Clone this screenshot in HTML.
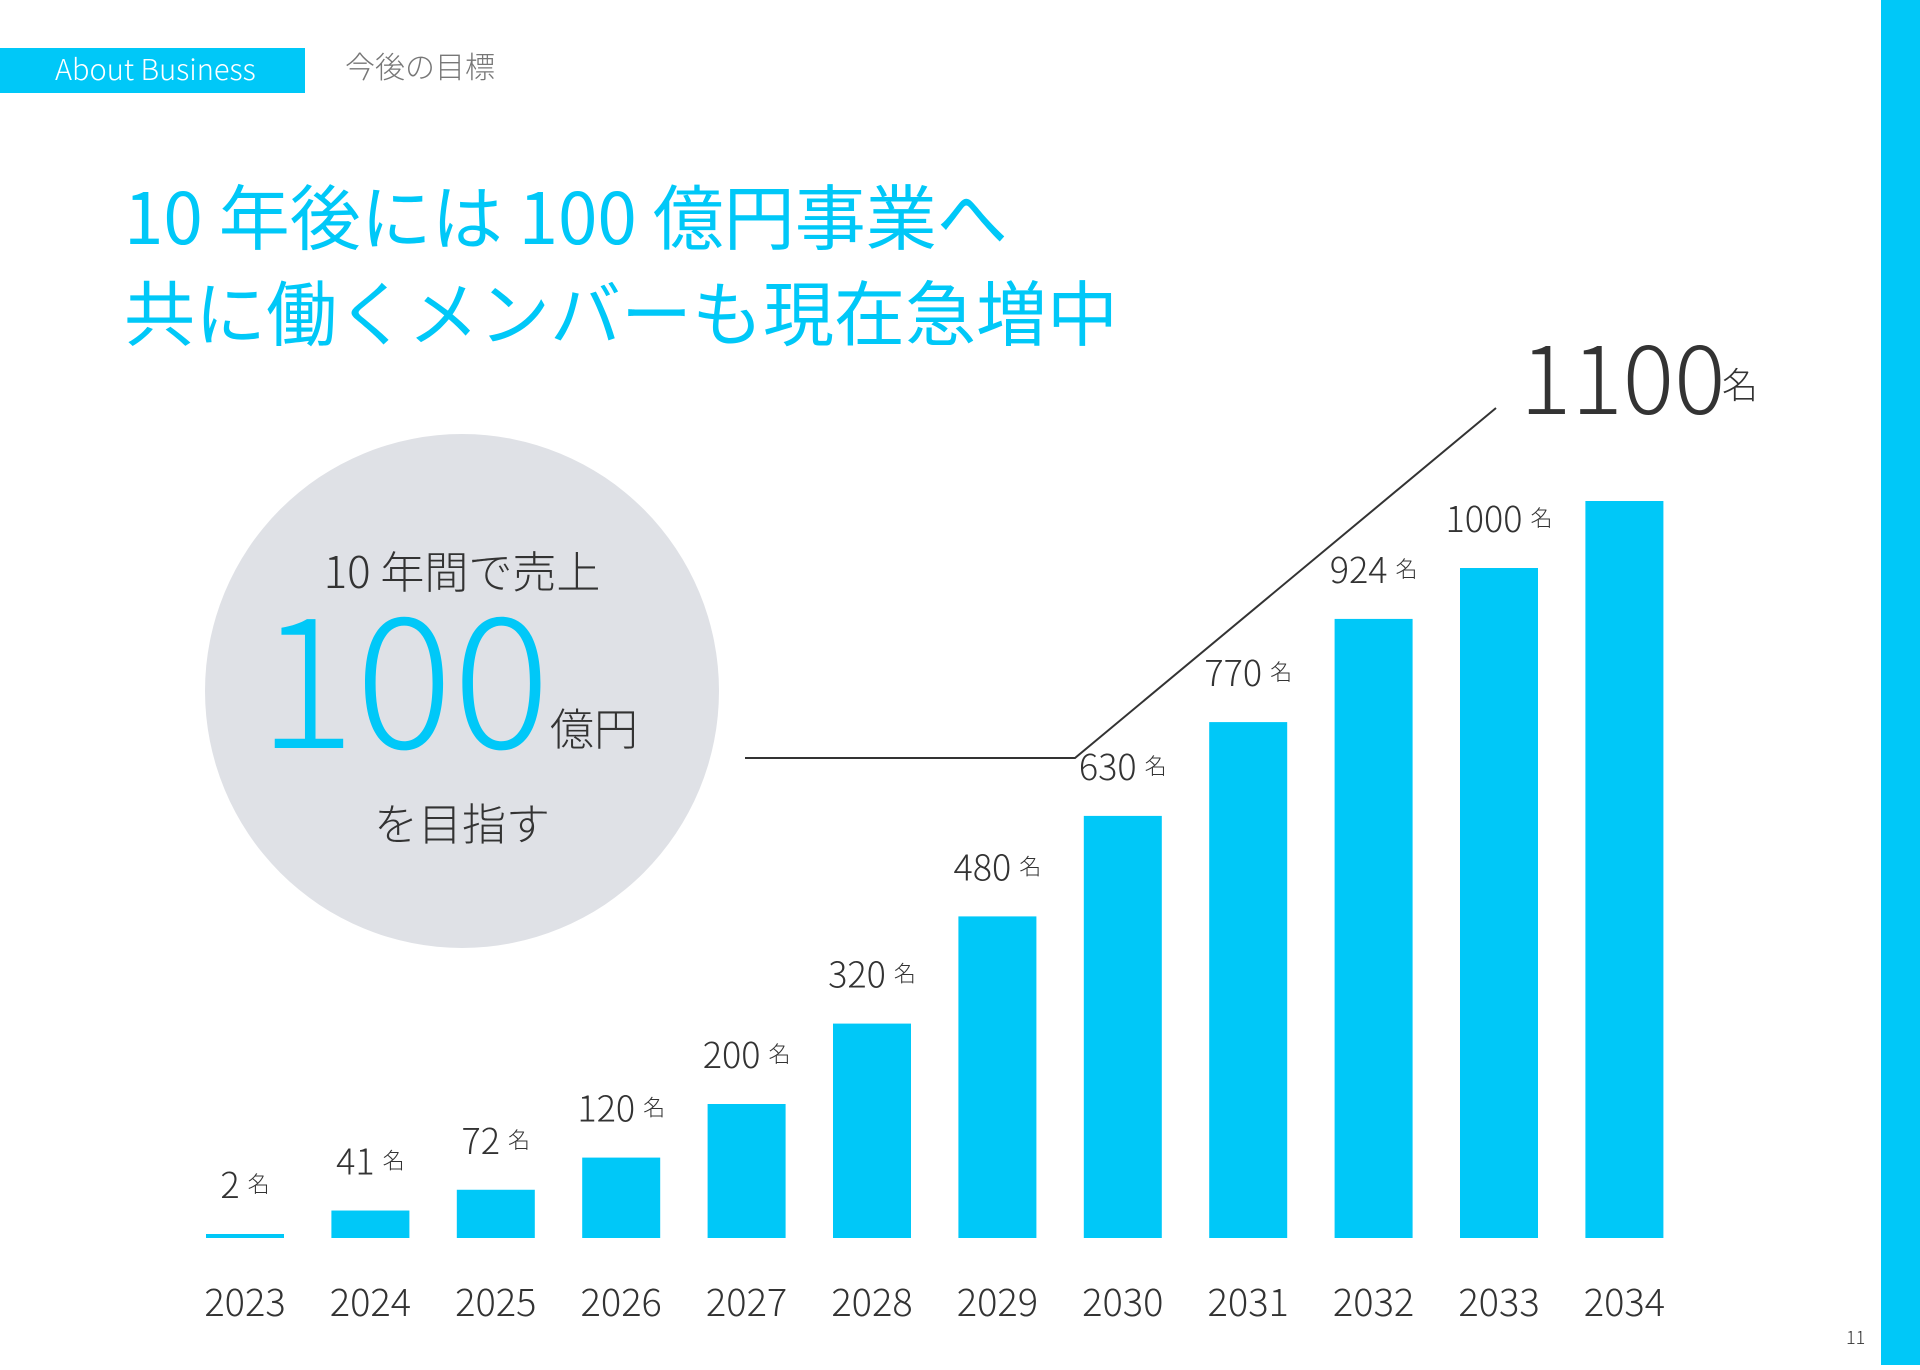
<!DOCTYPE html>
<html><head><meta charset="utf-8"><style>
html,body{margin:0;padding:0;background:#fff;}
body{width:1920px;height:1365px;overflow:hidden;position:relative;font-family:"Liberation Sans","Noto Sans CJK JP",sans-serif;}
svg text{font-family:"Noto Sans CJK JP","Liberation Sans",sans-serif;font-weight:300;}
</style></head><body>
<svg id="c" width="1920" height="1365" viewBox="0 0 1920 1365" xmlns="http://www.w3.org/2000/svg">
<rect x="1881" y="0" width="39" height="1365" fill="#00c8f8"/>
<rect x="0" y="48" width="305" height="45" fill="#00c8f8"/>
<text x="55" y="80" font-size="29" fill="#fff">About Business</text>
<text x="345" y="78" font-size="30" fill="#777">今後の目標</text>
<text x="124" y="244" font-size="71" fill="#00c8f8" style="font-weight:400">10 年後には 100 億円事業へ</text>
<text x="124" y="340" font-size="71" fill="#00c8f8" style="font-weight:400">共に働くメンバーも現在急増中</text>
<circle cx="462" cy="691" r="257" fill="#dfe1e6"/>
<text x="462" y="588" font-size="44" fill="#333" text-anchor="middle">10 年間で売上</text>
<text x="258" y="748" font-size="182" fill="#00c8f8">100</text>
<text x="550" y="745" font-size="44" fill="#333">億円</text>
<text x="462" y="840" font-size="44" fill="#333" text-anchor="middle">を目指す</text>
<polyline points="745,758 1075,758 1496,408" fill="none" stroke="#333" stroke-width="2"/>
<text x="1520" y="414" font-size="96" fill="#333">1100</text>
<text x="1722" y="398" font-size="36" fill="#333">名</text>
<text x="1846" y="1344" font-size="18" fill="#333">11</text>
<g id="bars"></g>
</svg>
<script>
const years = ["2023","2024","2025","2026","2027","2028","2029","2030","2031","2032","2033","2034"];
const members = [2,41,72,120,200,320,480,630,770,924,1000,1100];
const showLabel = [true,true,true,true,true,true,true,true,true,true,true,false];
const NS="http://www.w3.org/2000/svg";
const g=document.getElementById('bars');
const baseY=1238, x0=206, pitch=125.4, bw=78;
function xPos(i){return x0+i*pitch;}
function yScale(v){return v*0.67;}
years.forEach((yr,i)=>{
  const h=Math.max(yScale(members[i]),4);
  const r=document.createElementNS(NS,'rect');
  r.setAttribute('x',xPos(i));r.setAttribute('y',baseY-h);
  r.setAttribute('width',bw);r.setAttribute('height',h);r.setAttribute('fill','#00c8f8');
  
  
  g.appendChild(r);
  const t=document.createElementNS(NS,'text');
  t.setAttribute('x',xPos(i)+bw/2);t.setAttribute('y',1316);
  t.setAttribute('text-anchor','middle');t.setAttribute('font-size','38');t.setAttribute('fill','#333');
  t.textContent=yr;
  
  
  g.appendChild(t);
  if(showLabel[i]){
    const l=document.createElementNS(NS,'text');
    l.setAttribute('x',xPos(i)+bw/2);l.setAttribute('y',baseY-h-36);
    l.setAttribute('text-anchor','middle');l.setAttribute('fill','#333');
    const a=document.createElementNS(NS,'tspan');a.setAttribute('font-size','36');a.textContent=members[i]+' ';
    const b=document.createElementNS(NS,'tspan');b.setAttribute('font-size','22');b.setAttribute('dy','-6');b.textContent='名';
    l.appendChild(a);l.appendChild(b);
    
    
    g.appendChild(l);
  }
});
</script>
</body></html>
